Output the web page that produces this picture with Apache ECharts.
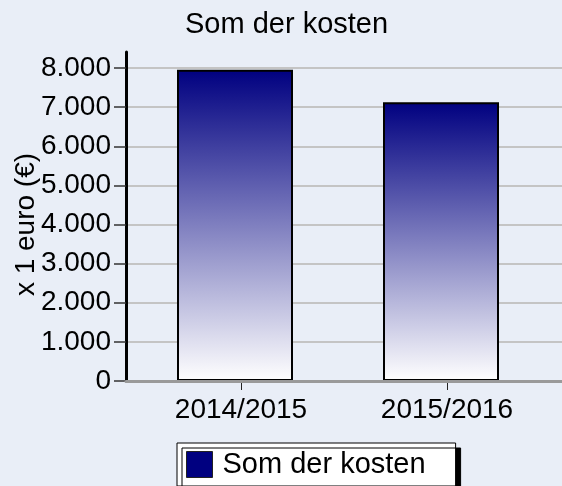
<!DOCTYPE html>
<html>
<head>
<meta charset="utf-8">
<script src="https://cdn.jsdelivr.net/npm/echarts@6/dist/echarts.min.js"></script>
<style>
  html, body { margin: 0; padding: 0; background: #e9eef7; }
  #chart { width: 562px; height: 486px; }
</style>
</head>
<body>
<div id="chart"></div>
<script>
// data
var categories = ["2014/2015", "2015/2016"];
var kosten = [7955, 7125];
var yMax = 8000;
var yStep = 1000;

var font = "Arial, 'Liberation Sans', sans-serif";

function fmt(v) {
  // 8000 -> 8.000
  return String(v).replace(/\B(?=(\d{3})+(?!\d))/g, ".");
}

var myChart = echarts.init(document.getElementById("chart"));

var option = {
  backgroundColor: "#e9eef7",
  animation: false,
  title: {
    text: "Som der kosten",
    left: 185,
    top: 10,
    padding: 0,
    textStyle: { fontFamily: font, fontSize: 29, fontWeight: "normal", color: "#000" }
  },
  legend: {
    left: 177,
    top: 443,
    padding: [7, 30, 7, 9],
    backgroundColor: "#fff",
    borderColor: "#000",
    borderWidth: 1,
    shadowColor: "#000",
    shadowBlur: 0,
    shadowOffsetX: 5,
    shadowOffsetY: 5,
    icon: "rect",
    itemWidth: 26,
    itemHeight: 26,
    textStyle: { fontFamily: font, fontSize: 29, color: "#000", padding: [0, 0, 0, 5] },
    data: [{
      name: "Som der kosten",
      itemStyle: { color: "#000080", borderColor: "#222", borderWidth: 1 }
    }]
  },
  grid: [
    // lijnen + y-as labels
    { left: 126, right: 0, top: 68, bottom: 105, outerBoundsMode: "none" },
    // staven
    { left: 132, right: 18, top: 68, bottom: 105, outerBoundsMode: "none" },
    // categorie labels
    { left: 138, right: 12, top: 68, bottom: 105, outerBoundsMode: "none" },
    // y-as lijn (loopt boven 8.000 door)
    { left: 126, right: 0, top: 52, bottom: 105, outerBoundsMode: "none" }
  ],
  xAxis: [
    {
      gridIndex: 0, type: "category", data: categories,
      axisLine: { show: true, lineStyle: { color: "#9a9a9a", width: 3 } },
      axisTick: { show: false }, axisLabel: { show: false }, z: 5
    },
    { gridIndex: 1, type: "category", data: categories, show: false },
    {
      gridIndex: 2, type: "category", data: categories,
      axisLine: { show: false },
      axisTick: { show: true, alignWithLabel: true, length: 9, lineStyle: { color: "#222", width: 1 } },
      axisLabel: { margin: 15, fontFamily: font, fontSize: 28, color: "#000" }
    },
    { gridIndex: 3, type: "category", data: categories, show: false }
  ],
  yAxis: [
    {
      gridIndex: 0, type: "value", min: 0, max: yMax, interval: yStep,
      name: "x 1 euro (€)", nameLocation: "middle", nameGap: 86, nameMoveOverlap: false,
      nameTextStyle: { fontFamily: font, fontSize: 28, color: "#000" },
      axisLine: { show: true, lineStyle: { color: "rgba(0,0,0,0)" } },
      axisTick: { show: true, length: 12, lineStyle: { color: "#333", width: 1.5 } },
      axisLabel: { margin: 15, fontFamily: font, fontSize: 28, color: "#000", formatter: fmt },
      splitLine: { show: true, lineStyle: { color: "#c4c4c4", width: 2 } }
    },
    { gridIndex: 1, type: "value", min: 0, max: yMax, interval: yStep, show: false },
    { gridIndex: 2, type: "value", min: 0, max: yMax, interval: yStep, show: false },
    {
      gridIndex: 3, type: "value", min: 0, max: 1,
      axisLine: { show: true, lineStyle: { color: "#000", width: 3 } },
      axisTick: { show: false }, axisLabel: { show: false }, splitLine: { show: false }
    }
  ],
  series: [
    {
      name: "Som der kosten",
      type: "bar",
      xAxisIndex: 1,
      yAxisIndex: 1,
      barWidth: 116,
      data: kosten,
      itemStyle: {
        borderColor: "#000",
        borderWidth: 2,
        color: new echarts.graphic.LinearGradient(0, 0, 0, 1, [
          { offset: 0, color: "#000080" },
          { offset: 1, color: "#ffffff" }
        ])
      }
    }
  ]
};

myChart.setOption(option);
</script>
</body>
</html>
